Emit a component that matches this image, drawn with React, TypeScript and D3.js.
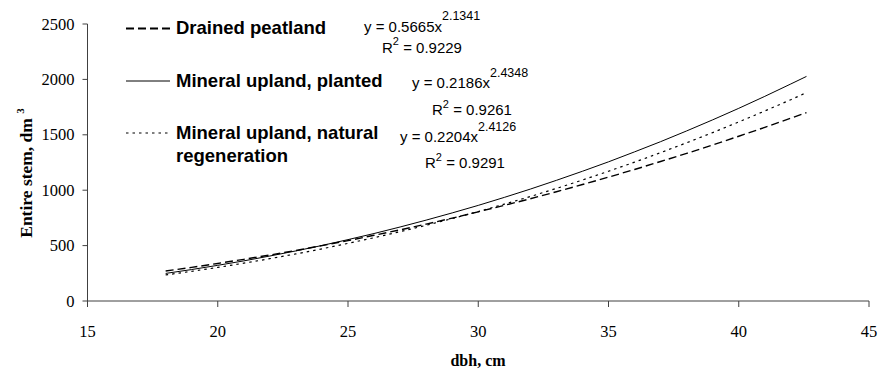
import React from "react";
import * as d3 from "d3";

const dbh = [18, 19, 20, 21, 22, 23, 24, 25, 26, 27, 28, 29, 30, 31, 32, 33, 34, 35, 36, 37, 38, 39, 40, 41, 42, 42.6];
const drainedPeatland = [271, 303, 339, 376, 415, 456, 500, 545, 593, 642, 694, 748, 805, 863, 923, 986, 1051, 1118, 1187, 1259, 1332, 1408, 1487, 1567, 1650, 1700];
const mineralPlanted = [249, 284, 322, 362, 406, 452, 501, 554, 609, 668, 730, 795, 863, 935, 1010, 1089, 1171, 1256, 1346, 1438, 1535, 1635, 1739, 1847, 1959, 2027];
const mineralNatural = [235, 268, 303, 341, 382, 425, 471, 520, 571, 626, 683, 744, 807, 874, 943, 1016, 1092, 1171, 1253, 1339, 1428, 1520, 1616, 1715, 1817, 1881];

const seriesNames = ["Drained peatland", "Mineral upland, planted", "Mineral upland, natural", "regeneration"];
const equations = [
  { a: "0.5665", b: "2.1341", r2: "0.9229" },
  { a: "0.2186", b: "2.4348", r2: "0.9261" },
  { a: "0.2204", b: "2.4126", r2: "0.9291" },
];
const xTicks = [15, 20, 25, 30, 35, 40, 45];
const yTicks = [0, 500, 1000, 1500, 2000, 2500];

const W = 888;
const H = 373;
const x = d3.scaleLinear().domain([15, 45]).range([87.5, 869]);
const y = d3.scaleLinear().domain([0, 2500]).range([301, 24]);

const serif = "'Liberation Serif', 'Times New Roman', serif";
const sans = "'Liberation Sans', Arial, sans-serif";

function line(vals: number[]) {
  return d3
    .line<number>()
    .x((_, i) => x(dbh[i]))
    .y((v) => y(v))(vals) as string;
}

const styles = [
  { dash: "8,4", width: 1.4 },
  { dash: "", width: 1 },
  { dash: "2.5,4", width: 1.2 },
];

export default function App() {
  const axisColor = "#404040";
  return (
    <svg
      width={W}
      height={H}
      style={{ position: "absolute", left: 0, top: 0, background: "#fff" }}
    >
      <rect x={0} y={0} width={W} height={H} fill="#fff" />
      {/* axes */}
      <line x1={x(15)} x2={x(15)} y1={y(2500)} y2={y(0)} stroke={axisColor} strokeWidth={1} />
      <line x1={x(15)} x2={x(45)} y1={y(0)} y2={y(0)} stroke={axisColor} strokeWidth={1} />
      {yTicks.map((t) => (
        <g key={"y" + t}>
          <line x1={x(15) - 5} x2={x(15)} y1={y(t)} y2={y(t)} stroke={axisColor} />
          <text
            x={x(15) - 13}
            y={y(t) + 5.5}
            textAnchor="end"
            fontFamily={serif}
            fontSize={16.5}
            fill="#000"
          >
            {t}
          </text>
        </g>
      ))}
      {xTicks.map((t) => (
        <g key={"x" + t}>
          <line x1={x(t)} x2={x(t)} y1={y(0)} y2={y(0) + 6} stroke={axisColor} />
          <text x={x(t)} y={y(0) + 36} textAnchor="middle" fontFamily={serif} fontSize={16.5} fill="#000">
            {t}
          </text>
        </g>
      ))}
      {/* axis titles */}
      <text
        transform={`translate(32,173) rotate(-90)`}
        textAnchor="middle"
        fontFamily={serif}
        fontWeight="bold"
        fontSize={17.5}
      >
        <tspan>Entire stem, dm </tspan>
        <tspan dy={-8} fontSize={11}>3</tspan>
      </text>
      <text x={478} y={366} textAnchor="middle" fontFamily={serif} fontWeight="bold" fontSize={16}>
        dbh, cm
      </text>
      {/* series */}
      {[drainedPeatland, mineralPlanted, mineralNatural].map((vals, i) => (
        <path
          key={"s" + i}
          d={line(vals)}
          fill="none"
          stroke="#000"
          strokeWidth={styles[i].width}
          strokeDasharray={styles[i].dash || undefined}
        />
      ))}
      {/* legend */}
      {[28.5, 81, 133].map((ly, i) => (
        <line
          key={"l" + i}
          x1={126}
          x2={170}
          y1={ly}
          y2={ly}
          stroke="#000"
          strokeWidth={i === 0 ? 2 : styles[i].width}
          strokeDasharray={styles[i].dash || undefined}
        />
      ))}
      {[33.5, 86.5, 138.5, 161.5].map((ty, i) => (
        <text key={"t" + i} x={176} y={ty} fontFamily={sans} fontWeight="bold" fontSize={18.5}>
          {seriesNames[i]}
        </text>
      ))}
      {/* equations */}
      {[
        { ex: 364, ey: 31.5, rx: 382, ry: 52.5 },
        { ex: 412, ey: 88, rx: 432, ry: 115 },
        { ex: 400, ey: 142, rx: 425, ry: 168 },
      ].map((p, i) => (
        <g key={"e" + i} fontFamily={sans} fontSize={15} fill="#000">
          <text x={p.ex} y={p.ey}>
            <tspan>{`y = ${equations[i].a}x`}</tspan>
            <tspan dy={-11.5} fontSize={12.5}>{equations[i].b}</tspan>
          </text>
          <text x={p.rx} y={p.ry}>
            <tspan>R</tspan>
            <tspan dy={-7.5} fontSize={11}>2</tspan>
            <tspan dy={7.5}>{` = ${equations[i].r2}`}</tspan>
          </text>
        </g>
      ))}
    </svg>
  );
}
